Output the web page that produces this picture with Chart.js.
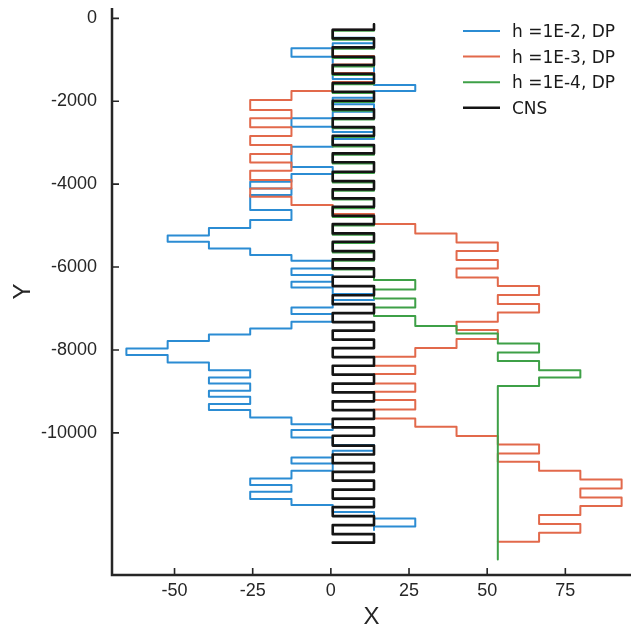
<!DOCTYPE html>
<html>
<head>
<meta charset="utf-8">
<script src="https://cdn.jsdelivr.net/npm/chart.js@4.4.1/dist/chart.umd.min.js"></script>
<style>
  html, body { margin: 0; padding: 0; background: #fff; }
</style>
</head>
<body>
<canvas id="grafico" width="631" height="629"></canvas>
<script>
// x of the lattice columns the paths jump between (index 5 = column at x≈0)
const levelX = [-65.4, -52.2, -39.0, -25.8, -12.6, 0.6, 13.8, 27.0, 40.2, 53.4, 66.6, 79.8, 93.0];

const xTicks = [-50, -25, 0, 25, 50, 75];
const yTicks = [0, -2000, -4000, -6000, -8000, -10000];

const labels = ["h =1E-2, DP", "h =1E-3, DP", "h =1E-4, DP", "CNS"];

// each path: column index of every vertical run, and the y where that run ends
const blueK = [1, 1,0,1,0,-1,0,1,0,1,2, 1,0,1,0,-1,0,1,0,-1,0, -1,-2,-1,-2,-1,-2,-3,-4,-3,-2,
  -1,0,-1,0,-1,0,1,0,-1,0, -1,-2,-3,-4,-5,-4,-3,-2,-3,-2, -3,-2,-3,-2,-1,0,-1,0,1,0,
  -1,0,-1,-2,-1,-2,-1,0,1,2, 1];
const blueY = [-145, -275,-468,-603,-724,-927,-1144,-1344,-1465,-1609,-1754,
  -1916,-2075,-2254,-2413,-2616,-2744,-2912,-3098,-3588,-3757,
  -3943,-4102,-4264,-4626,-4867,-5060,-5236,-5391,-5550,-5712,
  -5849,-6033,-6194,-6356,-6491,-6653,-6798,-6974,-7135,-7321,
  -7480,-7625,-7787,-7963,-8125,-8301,-8487,-8663,-8807,-8986,
  -9131,-9307,-9452,-9628,-9790,-9934,-10110,-10296,-10434,-10593,
  -10738,-10916,-11100,-11261,-11423,-11599,-11744,-11913,-12065,-12258,
  -12347];

const redK = [1, 1,0,1,0,1,0,1,0,-1,-2, -1,-2,-1,-2,-1,-2,-1,-2,-1,-2, -1,0,1,2,3,4,3,4,3,4,
  5,4,5,4,3,4,3,2,1,2, 1,2,1,2,1,2,3,4,5,4, 5,6,7,6,7,6,5,6,5,4];
const redY = [-145, -275,-487,-693,-910,-1115,-1320,-1537,-1754,-1971,-2213,
  -2413,-2630,-2840,-3057,-3274,-3475,-3677,-3902,-4102,-4305,
  -4505,-4722,-4964,-5188,-5410,-5615,-5832,-6033,-6250,-6460,
  -6677,-6894,-7094,-7321,-7521,-7738,-7956,-8166,-8383,-8583,
  -8807,-9010,-9210,-9435,-9652,-9855,-10079,-10279,-10497,-10699,
  -10916,-11124,-11341,-11558,-11768,-11985,-12202,-12412,-12630,-12630];

const greenK = [1, 1,0,1,0,1,0,1,0,1,0, 1,0,1,0,1,0,1,0,1,0, 1,0,1,0,1,0,1,0,
  1, 2,1,2,1,2,3,4,5,4,5,6,5,4];
const greenY = [-145, -300,-515,-735,-955,-1160,-1365,-1590,-1800,-2020,-2230,
  -2440,-2650,-2860,-3090,-3290,-3500,-3730,-3960,-4160,-4370,
  -4580,-4790,-5000,-5220,-5420,-5650,-5850,-6060,
  -6315, -6539,-6756,-6974,-7184,-7425,-7601,-7842,-8059,-8269,-8487,-8663,-8873,-13054];

const cnsK = [1, 1,0,1,0,1,0,1,0,1,0, 1,0,1,0,1,0,1,0,1,0, 1,0,1,0,1,0,1,0,1,0,
  1,0,1,0,1,0,1,0,1,0, 1,0,1,0,1,0,1,0,1,0, 1,0,1,0,1,0,1,0,1, 0];
const cnsY = [-145, -275,-483,-700,-927,-1127,-1337,-1561,-1771,-1988,-2196,
  -2413,-2623,-2833,-3057,-3258,-3472,-3702,-3926,-4126,-4343,
  -4546,-4763,-4964,-5188,-5391,-5615,-5815,-6033,-6235,-6460,
  -6682,-6894,-7111,-7328,-7533,-7751,-7956,-8173,-8383,-8595,
  -8812,-9025,-9240,-9452,-9662,-9869,-10072,-10308,-10521,-10731,
  -10941,-11153,-11370,-11587,-11792,-12009,-12226,-12444,-12649,
  -12649];

const toPoints = (ks, ys) => ks.map((k, i) => ({ x: levelX[k + 5], y: ys[i] }));

function serie(label, ks, ys, color, width, order) {
  return {
    label: label,
    data: toPoints(ks, ys),
    borderColor: color,
    backgroundColor: color,
    borderWidth: width,
    stepped: "before",
    pointRadius: 0,
    fill: false,
    borderJoinStyle: "round",
    borderCapStyle: "round",
    order: order
  };
}

const datasets = [
  serie(labels[0], blueK, blueY, "#2b8cd3", 2, 3),
  serie(labels[1], redK, redY, "#e2694b", 2, 2),
  serie(labels[2], greenK, greenY, "#3ea047", 2, 1),
  serie(labels[3], cnsK, cnsY, "#141414", 2.6, 0)
];

// axis lines, inward tick marks and the legend box
const marco = {
  id: "marco",
  afterDraw(chart) {
    const { ctx, chartArea: a, scales } = chart;
    ctx.save();
    ctx.strokeStyle = "#262626";
    ctx.lineWidth = 2.5;
    ctx.beginPath();
    ctx.moveTo(a.left, a.top);
    ctx.lineTo(a.left, a.bottom);
    ctx.lineTo(a.right, a.bottom);
    ctx.stroke();

    ctx.lineWidth = 1.6;
    ctx.beginPath();
    scales.x.ticks.forEach(t => {
      const px = scales.x.getPixelForValue(t.value);
      ctx.moveTo(px, a.bottom);
      ctx.lineTo(px, a.bottom - 7);
    });
    scales.y.ticks.forEach(t => {
      const py = scales.y.getPixelForValue(t.value);
      ctx.moveTo(a.left, py);
      ctx.lineTo(a.left + 7, py);
    });
    ctx.stroke();

    ctx.font = '17px "DejaVu Sans"';
    ctx.textBaseline = "middle";
    chart.data.datasets.forEach((ds, i) => {
      const yy = a.top + 23 + i * 25.6;
      ctx.strokeStyle = ds.borderColor;
      ctx.lineWidth = ds.borderWidth;
      ctx.beginPath();
      ctx.moveTo(a.right - 168, yy);
      ctx.lineTo(a.right - 131, yy);
      ctx.stroke();
      ctx.fillStyle = "#1a1a1a";
      ctx.fillText(ds.label, a.right - 119, yy + 1.5);
    });
    ctx.restore();
  }
};

Chart.defaults.font.family = '"Liberation Sans", Arial, sans-serif';
Chart.defaults.color = "#262626";

new Chart(document.getElementById("grafico").getContext("2d"), {
  type: "line",
  data: { datasets: datasets },
  options: {
    responsive: false,
    animation: false,
    events: [],
    layout: { padding: { top: 8, right: 0, bottom: 0, left: 0 } },
    plugins: {
      legend: { display: false },
      tooltip: { enabled: false }
    },
    scales: {
      x: {
        type: "linear",
        min: -70,
        max: 96,
        grid: { display: false, drawTicks: false },
        border: { display: false },
        afterBuildTicks: s => { s.ticks = xTicks.map(v => ({ value: v })); },
        afterFit: s => { s.height = 54; s.paddingLeft = 0; s.paddingRight = 0; },
        ticks: {
          autoSkip: false,
          maxRotation: 0,
          padding: 5,
          font: { size: 18 },
          callback: v => String(v)
        },
        title: {
          display: true,
          text: "X",
          font: { size: 24, lineHeight: 1 },
          padding: { top: 0, bottom: 0 }
        }
      },
      y: {
        type: "linear",
        min: -13430,
        max: 250,
        grid: { display: false, drawTicks: false },
        border: { display: false },
        afterBuildTicks: s => { s.ticks = yTicks.map(v => ({ value: v })); },
        afterFit: s => { s.width = 112; s.paddingTop = 0; s.paddingBottom = 0; },
        ticks: {
          autoSkip: false,
          padding: 15,
          font: { size: 18 },
          callback: v => String(v)
        },
        title: {
          display: true,
          text: "Y",
          font: { size: 24, lineHeight: 1 },
          padding: { top: 11, bottom: 0 }
        }
      }
    }
  },
  plugins: [marco]
});
</script>
</body>
</html>
